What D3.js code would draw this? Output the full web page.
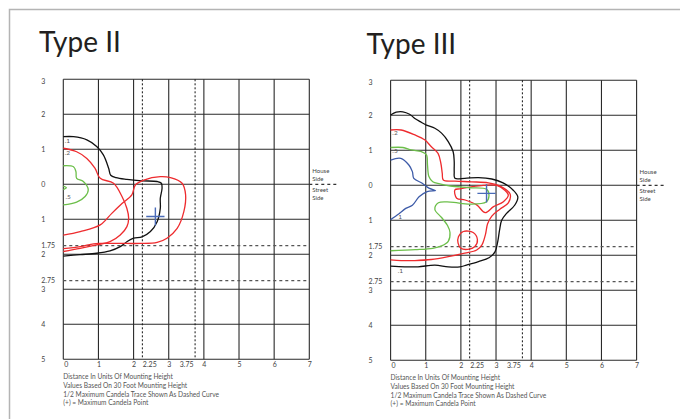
<!DOCTYPE html>
<html>
<head>
<meta charset="utf-8">
<script src="https://cdn.jsdelivr.net/npm/d3@7"></script>
<style>
  body { margin: 0; background: #fff; }
  svg { display: block; font-family: Lato, "Open Sans", sans-serif; }
</style>
</head>
<body>
<svg id="chart" width="680" height="419"></svg>
<script>
// ticks / grid
const xTicks = [0, 1, 2, 2.25, 3, 3.75, 4, 5, 6, 7];
const yTicks = [-3, -2, -1, 0, 1, 1.75, 2, 2.75, 3, 4, 5];
const gridX = [0, 1, 2, 3, 4, 5, 6, 7];
const gridY = [-3, -2, -1, 0, 1, 2, 3, 4, 5];
const dashedX = [2.25, 3.75];
const dashedY = [1.75, 2.75];
const captionLines = [
  "Distance In Units Of Mounting Height",
  "Values Based On 30 Foot Mounting Height",
  "1/2 Maximum Candela Trace Shown As Dashed Curve",
  "(+) = Maximum Candela Point"
];

// Type II isocandela traces (x, y in mounting heights, negative y = house side)
const typeIIBlack = [[0,-1.36],[0.29,-1.36],[0.67,-1.27],[0.95,-1.08],[1.14,-0.84],[1.29,-0.46],[1.35,-0.26],[1.5,-0.19],[1.81,-0.14],[2.24,-0.1],[2.67,-0.08],[2.79,-0.03],[2.81,0.11],[2.76,0.4],[2.76,0.69],[2.67,1.07],[2.48,1.35],[2.24,1.5],[2.0,1.54],[1.81,1.64],[1.62,1.78],[1.33,1.9],[0.95,1.97],[0.48,2.01],[0,2.05]];
const typeIIRedA = [[0,-1.03],[0.38,-0.93],[0.67,-0.74],[0.9,-0.46],[1.05,-0.17],[1.43,-0.03],[1.67,0.35],[1.81,0.69],[1.86,0.97],[1.81,1.21],[1.62,1.45],[1.33,1.64],[0.95,1.73],[0.48,1.83],[0,1.92]];
const typeIIRedB = [[0,1.45],[0.48,1.35],[1.05,1.16],[1.38,0.83],[1.67,0.55],[1.95,0.3],[2.05,0.02],[2.29,-0.12],[2.76,-0.22],[3.05,-0.19],[3.38,-0.03],[3.48,0.3],[3.43,0.78],[3.24,1.26],[2.95,1.54],[2.67,1.66],[2.19,1.69],[1.81,1.69],[1.43,1.69],[1.05,1.69],[0.86,1.7],[0.48,1.78],[0,1.84]];
const typeIIGreen = [[0,-0.53],[0.29,-0.5],[0.36,-0.36],[0.38,-0.17],[0.57,-0.08],[0.71,0.16],[0.62,0.35],[0.38,0.51],[0,0.59]];
const typeIIGreenTick = [[0,0.05],[0.09,0.1],[0,0.15]];
const typeIIMax = [2.62, 0.92];
const typeIILabels = [[".1", 0.04, -1.24], [".2", 0.04, -0.89], [".5", 0.06, 0.35]];

// Type III isocandela traces
const typeIIIBlack = [[0,-2.01],[0.16,-2.09],[0.35,-2.1],[0.54,-2.03],[0.69,-1.91],[0.84,-1.82],[1.02,-1.72],[1.26,-1.63],[1.45,-1.49],[1.64,-1.25],[1.78,-0.96],[1.81,-0.68],[1.81,-0.39],[1.83,-0.2],[2.11,-0.2],[2.5,-0.22],[2.88,-0.18],[3.2,-0.07],[3.49,0.14],[3.62,0.33],[3.53,0.57],[3.3,0.8],[3.16,1.0],[3.1,1.28],[3.05,1.6],[2.97,1.9],[2.8,2.07],[2.5,2.18],[2.16,2.28],[1.97,2.33],[1.64,2.33],[1.26,2.28],[0.78,2.33],[0.4,2.33],[0,2.31]];
const typeIIIRed = [[0,-1.58],[0.3,-1.58],[0.69,-1.44],[0.97,-1.3],[1.16,-1.1],[1.35,-0.91],[1.43,-0.63],[1.47,-0.34],[1.5,-0.15],[1.83,-0.12],[2.3,-0.1],[2.78,-0.07],[3.13,0.03],[3.4,0.25],[3.35,0.5],[3.1,0.69],[2.88,0.88],[2.76,1.1],[2.7,1.4],[2.6,1.7],[2.45,1.85],[2.11,1.94],[1.64,2.04],[1.16,2.12],[0.69,2.15],[0.3,2.15],[0,2.13]];
const typeIIIRedLoop = [[1.83,0.13],[1.88,0.37],[2.12,0.42],[2.45,0.56],[2.69,0.78],[2.93,0.61],[3.21,0.47],[3.35,0.28],[3.25,0.14],[3.02,0.0],[2.64,0.0],[2.26,0.05],[1.97,0.1]];
const typeIIIRedSmall = [[1.93,1.47],[2.07,1.32],[2.35,1.35],[2.47,1.55],[2.4,1.75],[2.2,1.83],[2.0,1.8],[1.92,1.65]];
const typeIIIGreen = [[0,-1.08],[0.35,-1.08],[0.59,-1.01],[0.88,-0.96],[1.02,-0.87],[1.05,-0.58],[1.09,-0.25],[1.2,-0.1],[1.4,-0.04],[1.7,0.02],[2.26,0.07],[2.74,0.12],[2.8,0.3],[2.72,0.48],[2.26,0.54],[1.7,0.48],[1.36,0.5],[1.26,0.69],[1.45,0.92],[1.62,1.15],[1.69,1.35],[1.64,1.6],[1.45,1.73],[1.2,1.8],[0.7,1.84],[0,1.87]];
const typeIIIBlue = [[0,-0.72],[0.29,-0.77],[0.52,-0.58],[0.62,-0.39],[0.66,-0.2],[0.9,-0.06],[1.09,0.08],[1.28,0.15],[1.04,0.18],[0.81,0.33],[0.62,0.57],[0.43,0.66],[0.24,0.81],[0,0.98]];
const typeIIIMax = [2.73, 0.23];
const typeIIILabels = [[".2", 0.05, -1.49], [".5", 0.05, -0.99], ["1", 0.22, 0.9], [".1", 0.2, 2.45]];

const COLORS = {black: "#111", red: "#ee2b2e", green: "#6cbf4a", blue: "#3d5ba8"};

const svg = d3.select("#chart");

// frame
svg.append("path")
  .attr("d", "M9.5,419 V9.5 H680")
  .attr("fill", "none")
  .attr("stroke", "#b4b4b4")
  .attr("stroke-width", 1.5);

let drawPanel = (p) => {
  let x = d3.scaleLinear().domain([0, 7]).range([p.left, p.left + 246]);
  let y = d3.scaleLinear().domain([-3, 5]).range([p.top, p.top + 280]);
  let g = svg.append("g");

  g.append("text")
    .attr("x", p.titleX).attr("y", p.titleY)
    .attr("font-size", 28)
    .attr("fill", "#231f20")
    .text(p.title);

  // grid
  g.selectAll(".gx").data(gridX).enter().append("line")
    .attr("x1", d => x(d)).attr("x2", d => x(d))
    .attr("y1", y(-3)).attr("y2", y(5))
    .attr("stroke", "#2a2a2a").attr("stroke-width", 1.1);
  g.selectAll(".gy").data(gridY).enter().append("line")
    .attr("y1", d => y(d)).attr("y2", d => y(d))
    .attr("x1", x(0)).attr("x2", x(7))
    .attr("stroke", "#2a2a2a").attr("stroke-width", 1.1);

  g.selectAll(".dx").data(dashedX).enter().append("line")
    .attr("x1", d => x(d)).attr("x2", d => x(d))
    .attr("y1", y(-3)).attr("y2", y(5))
    .attr("stroke", "#111").attr("stroke-width", 1)
    .attr("stroke-dasharray", "2,2");
  g.selectAll(".dy").data(dashedY).enter().append("line")
    .attr("y1", d => y(d)).attr("y2", d => y(d))
    .attr("x1", x(0)).attr("x2", x(7))
    .attr("stroke", "#555").attr("stroke-width", 1.3)
    .attr("stroke-dasharray", "3,3");

  // house / street divider
  g.append("line")
    .attr("x1", x(7)).attr("x2", x(7) + 30)
    .attr("y1", y(0)).attr("y2", y(0))
    .attr("stroke", "#333").attr("stroke-width", 1.2)
    .attr("stroke-dasharray", "3,3");
  g.selectAll(".side").data([["House", -11], ["Side", -3], ["Street", 8], ["Side", 16]]).enter().append("text")
    .attr("x", x(7) + 3).attr("y", d => y(0) + d[1])
    .attr("font-size", 6).attr("fill", "#444")
    .text(d => d[0]);

  // axes
  let yAxis = d3.axisLeft(y).tickValues(yTicks).tickSize(0).tickFormat(d => Math.abs(d));
  let ya = g.append("g").attr("transform", `translate(${p.left},0)`).call(yAxis);
  ya.select(".domain").remove();
  ya.selectAll("text")
    .attr("text-anchor", "start")
    .attr("x", -22)
    .attr("dy", d => d === -3 ? "0.65em" : "0.32em")
    .attr("font-size", 7).attr("font-family", "Lato, sans-serif").attr("fill", "#444");

  let xAxis = d3.axisBottom(x).tickValues(xTicks).tickSize(0).tickFormat(d => d);
  let xa = g.append("g").attr("transform", `translate(0,${y(5)})`).call(xAxis);
  xa.select(".domain").remove();
  xa.selectAll("text")
    .attr("y", 3)
    .attr("text-anchor", d => d === 0 || d === 2.25 ? "start" : d === 3.75 ? "end" : "middle")
    .attr("dx", d => d === 0 ? 0.5 : d === 2.25 ? 0 : d === 3.75 ? -2 : 0)
    .attr("font-size", 7).attr("font-family", "Lato, sans-serif").attr("fill", "#444");

  g.selectAll(".cap").data(captionLines).enter().append("text")
    .attr("x", p.left).attr("y", (d, i) => y(5) + 20 + i * 8.6)
    .attr("font-size", 6.6).attr("fill", "#555")
    .text(d => d);

  // traces
  let line = d3.line().x(d => x(d[0])).y(d => y(d[1])).curve(d3.curveCatmullRom.alpha(0.5));
  let closed = d3.line().x(d => x(d[0])).y(d => y(d[1])).curve(d3.curveCatmullRomClosed.alpha(0.5));
  p.traces.forEach(t => {
    g.append("path")
      .attr("d", (t.closed ? closed : line)(t.pts))
      .attr("fill", "none")
      .attr("stroke", COLORS[t.color])
      .attr("stroke-width", 1.3)
      .attr("stroke-linejoin", "round");
  });

  // max candela point
  let arm = 0.26;
  g.append("path")
    .attr("d", `M${x(p.max[0] - arm)},${y(p.max[1])}H${x(p.max[0] + arm)}M${x(p.max[0])},${y(p.max[1] - arm)}V${y(p.max[1] + arm)}`)
    .attr("stroke", "#4a6bb8").attr("stroke-width", 1.4).attr("fill", "none");

  g.selectAll(".lbl").data(p.labels).enter().append("text")
    .attr("x", d => x(d[1])).attr("y", d => y(d[2]))
    .attr("dy", "0.35em")
    .attr("font-size", 6.5).attr("fill", "#555")
    .text(d => d[0]);
};

drawPanel({
  title: "Type II", titleX: 39, titleY: 52,
  left: 63.3, top: 79.3,
  traces: [
    {pts: typeIIBlack, color: "black"},
    {pts: typeIIRedA, color: "red"},
    {pts: typeIIRedB, color: "red"},
    {pts: typeIIGreen, color: "green"},
    {pts: typeIIGreenTick, color: "green"}
  ],
  max: typeIIMax,
  labels: typeIILabels
});

drawPanel({
  title: "Type III", titleX: 366.5, titleY: 53.5,
  left: 390.6, top: 80.3,
  traces: [
    {pts: typeIIIBlack, color: "black"},
    {pts: typeIIIRed, color: "red"},
    {pts: typeIIIRedLoop, color: "red", closed: true},
    {pts: typeIIIRedSmall, color: "red", closed: true},
    {pts: typeIIIGreen, color: "green"},
    {pts: typeIIIBlue, color: "blue"}
  ],
  max: typeIIIMax,
  labels: typeIIILabels
});
</script>
</body>
</html>
